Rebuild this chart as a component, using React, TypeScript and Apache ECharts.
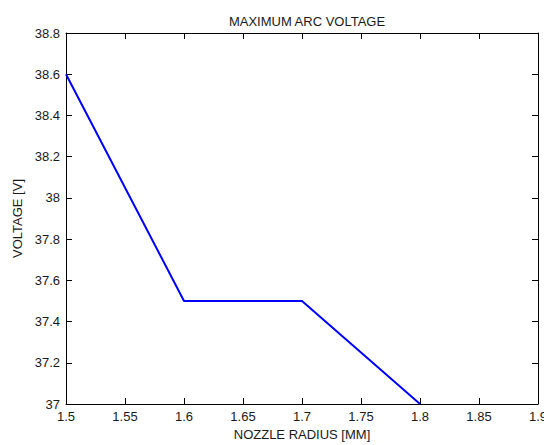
import React, { useEffect, useRef } from "react";
import * as echarts from "echarts";

const radius = [1.5, 1.6, 1.7, 1.8];
const voltage = [38.6, 37.5, 37.5, 37.0];
const titleText = "MAXIMUM ARC VOLTAGE";
const xName = "NOZZLE RADIUS [MM]";
const yName = "VOLTAGE [V]";

const fmt = (v: number) => String(parseFloat(v.toFixed(4)));

export default function App() {
  const ref = useRef<HTMLDivElement>(null);
  useEffect(() => {
    if (!ref.current) return;
    const chart = echarts.init(ref.current, null, { renderer: "svg" });
    const font = "Arial, 'Liberation Sans', sans-serif";
    const fs = 13;
    const txt = "#1a1a1a";
    const axisCommon = {
      axisLine: { show: true, lineStyle: { color: "#000", width: 1 } },
      axisTick: { show: true, inside: true, length: 6, lineStyle: { color: "#000" } },
      splitLine: { show: false },
    };
    chart.setOption({
      animation: false,
      backgroundColor: "#fff",
      title: {
        text: titleText,
        left: 302,
        top: 10,
        textAlign: "center",
        textStyle: { fontSize: fs, fontWeight: "normal", color: txt, fontFamily: font },
      },
      grid: { left: 66, right: 6, top: 33, bottom: 41, containLabel: false, outerBoundsMode: "none" },
      xAxis: [
        {
          type: "value",
          min: 1.5,
          max: 1.9,
          interval: 0.05,
          name: xName,
          nameLocation: "middle",
          nameGap: 23,
          nameTextStyle: { fontSize: fs, color: txt, fontFamily: font },
          axisLabel: { fontSize: fs, color: txt, fontFamily: font, margin: 6, formatter: fmt, showMaxLabel: true, showMinLabel: true },
          ...axisCommon,
        },
        {
          type: "value",
          position: "top",
          min: 1.5,
          max: 1.9,
          interval: 0.05,
          axisLabel: { show: false },
          ...axisCommon,
        },
      ],
      yAxis: [
        {
          type: "value",
          min: 37,
          max: 38.8,
          interval: 0.2,
          name: yName,
          nameLocation: "middle",
          nameGap: 41,
          nameTextStyle: { fontSize: fs, color: txt, fontFamily: font },
          axisLabel: { fontSize: fs, color: txt, fontFamily: font, margin: 6, formatter: fmt, showMaxLabel: true, showMinLabel: true },
          ...axisCommon,
        },
        {
          type: "value",
          position: "right",
          min: 37,
          max: 38.8,
          interval: 0.2,
          axisLabel: { show: false },
          ...axisCommon,
        },
      ],
      series: [
        {
          type: "line",
          data: radius.map((r, i) => [r, voltage[i]]),
          showSymbol: false,
          symbol: "none",
          lineStyle: { color: "#0000ff", width: 2 },
        },
      ],
    });
    return () => chart.dispose();
  }, []);
  return <div ref={ref} style={{ width: 544, height: 445, position: "absolute", left: 0, top: 0 }} />;
}
